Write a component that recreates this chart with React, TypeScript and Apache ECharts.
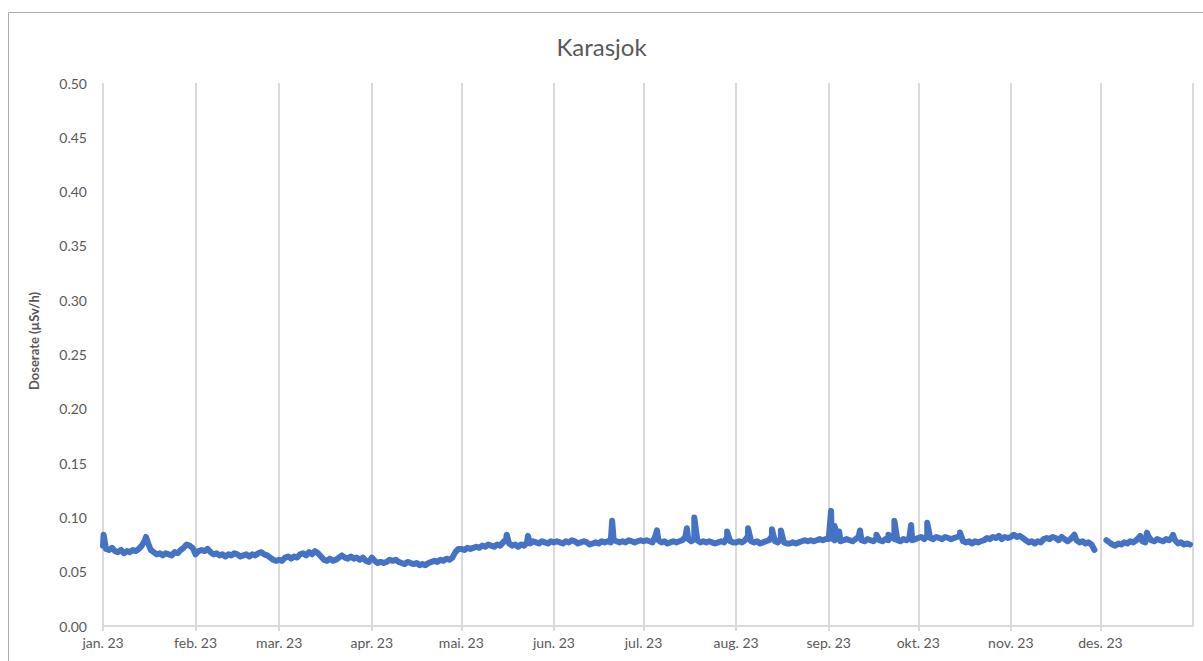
import React, { useEffect, useRef } from "react";
import * as echarts from "echarts";

const monthLabels = ["jan. 23", "feb. 23", "mar. 23", "apr. 23", "mai. 23", "jun. 23", "jul. 23", "aug. 23", "sep. 23", "okt. 23", "nov. 23", "des. 23"];
const yTickValues = [0, 0.05, 0.1, 0.15, 0.2, 0.25, 0.3, 0.35, 0.4, 0.45, 0.5];

// daily dose rate (µSv/h), 2023, one value per day
const jan = [0.074, 0.071, 0.070, 0.072, 0.069, 0.068, 0.070, 0.067, 0.069, 0.068, 0.070, 0.069, 0.071, 0.074, 0.079, 0.077, 0.070, 0.068, 0.066, 0.067, 0.065, 0.067, 0.066, 0.065, 0.068, 0.067, 0.070, 0.072, 0.075, 0.074, 0.072];
const feb = [0.066, 0.069, 0.070, 0.069, 0.071, 0.068, 0.066, 0.067, 0.065, 0.066, 0.064, 0.066, 0.065, 0.067, 0.066, 0.064, 0.065, 0.066, 0.064, 0.066, 0.065, 0.067, 0.068, 0.066, 0.065, 0.063, 0.061, 0.060];
const mar = [0.061, 0.060, 0.063, 0.064, 0.062, 0.064, 0.063, 0.066, 0.067, 0.065, 0.068, 0.066, 0.069, 0.067, 0.064, 0.061, 0.060, 0.062, 0.060, 0.061, 0.063, 0.065, 0.063, 0.062, 0.064, 0.062, 0.063, 0.061, 0.063, 0.060, 0.059];
const apr = [0.063, 0.060, 0.058, 0.059, 0.058, 0.059, 0.061, 0.060, 0.061, 0.059, 0.058, 0.057, 0.059, 0.058, 0.057, 0.058, 0.056, 0.057, 0.056, 0.058, 0.059, 0.060, 0.059, 0.061, 0.060, 0.062, 0.061, 0.063, 0.068, 0.071];
const mai = [0.071, 0.070, 0.072, 0.071, 0.072, 0.073, 0.072, 0.074, 0.073, 0.075, 0.074, 0.073, 0.075, 0.074, 0.077, 0.080, 0.076, 0.074, 0.075, 0.073, 0.075, 0.074, 0.077, 0.076, 0.078, 0.077, 0.076, 0.078, 0.077, 0.076, 0.078];
const jun = [0.077, 0.078, 0.077, 0.076, 0.078, 0.077, 0.079, 0.078, 0.076, 0.077, 0.078, 0.077, 0.075, 0.076, 0.077, 0.076, 0.078, 0.077, 0.078, 0.077, 0.079, 0.078, 0.077, 0.078, 0.077, 0.079, 0.078, 0.077, 0.078, 0.079];
const jul = [0.078, 0.079, 0.078, 0.077, 0.083, 0.079, 0.077, 0.078, 0.076, 0.077, 0.078, 0.077, 0.078, 0.079, 0.082, 0.080, 0.078, 0.080, 0.079, 0.077, 0.078, 0.077, 0.078, 0.077, 0.076, 0.077, 0.078, 0.077, 0.082, 0.078, 0.077];
const aug = [0.077, 0.078, 0.077, 0.079, 0.083, 0.078, 0.077, 0.078, 0.076, 0.077, 0.078, 0.079, 0.083, 0.078, 0.077, 0.081, 0.077, 0.076, 0.076, 0.077, 0.076, 0.077, 0.078, 0.079, 0.078, 0.079, 0.078, 0.079, 0.080, 0.079, 0.080];
const sep = [0.080, 0.081, 0.079, 0.080, 0.078, 0.079, 0.080, 0.079, 0.078, 0.080, 0.082, 0.079, 0.078, 0.080, 0.079, 0.078, 0.081, 0.079, 0.078, 0.080, 0.079, 0.082, 0.080, 0.079, 0.078, 0.080, 0.079, 0.081, 0.079, 0.080];
const okt = [0.081, 0.082, 0.080, 0.083, 0.081, 0.080, 0.082, 0.081, 0.080, 0.082, 0.081, 0.080, 0.081, 0.082, 0.083, 0.078, 0.077, 0.078, 0.076, 0.078, 0.077, 0.078, 0.079, 0.081, 0.080, 0.082, 0.081, 0.083, 0.080, 0.082, 0.081];
const nov = [0.082, 0.084, 0.082, 0.083, 0.081, 0.079, 0.077, 0.078, 0.076, 0.078, 0.077, 0.080, 0.081, 0.080, 0.082, 0.081, 0.079, 0.082, 0.080, 0.078, 0.080, 0.083, 0.079, 0.077, 0.078, 0.076, 0.077, 0.075, 0.070, null];
const des = [null, null, 0.079, 0.077, 0.075, 0.074, 0.076, 0.075, 0.077, 0.076, 0.078, 0.077, 0.079, 0.082, 0.078, 0.077, 0.083, 0.079, 0.078, 0.080, 0.079, 0.078, 0.080, 0.079, 0.082, 0.079, 0.076, 0.077, 0.075, 0.076, 0.075];

// short-lived peaks: day of year (0 = 1 Jan) and dose rate
const spikeDays = [0.2, 14.4, 135.2, 142.3, 170.5, 185.5, 195.5, 198.0, 209.0, 216.0, 224.0, 227.0, 243.8, 245.0, 246.5, 253.5, 259.0, 263.0, 265.0, 270.6, 276.0, 287.0, 325.3, 347.3, 349.6, 358.3];
const spikeValues = [0.084, 0.082, 0.084, 0.083, 0.097, 0.088, 0.090, 0.100, 0.087, 0.090, 0.089, 0.088, 0.106, 0.092, 0.087, 0.088, 0.084, 0.084, 0.097, 0.093, 0.095, 0.086, 0.084, 0.083, 0.086, 0.084];

const DAY = 86400000;
const START = new Date(2023, 0, 1).getTime();
const END = new Date(2024, 0, 1).getTime();

export default function App() {
  const ref = useRef<HTMLDivElement>(null);
  useEffect(() => {
    if (!ref.current) return;
    const chart = echarts.init(ref.current, null, { renderer: "svg" });
    const daily = [...jan, ...feb, ...mar, ...apr, ...mai, ...jun, ...jul, ...aug, ...sep, ...okt, ...nov, ...des];
    const pts: [number, number | null][] = daily.map((v, i) => [i, v]);
    spikeDays.forEach((d, i) => pts.push([d, spikeValues[i]]));
    pts.sort((a, b) => a[0] - b[0]);
    const data = pts.map(([d, v]) => [START + d * DAY, v]);

    const font = "Lato, 'Open Sans', sans-serif";
    chart.setOption({
      animation: false,
      backgroundColor: "#ffffff",
      title: {
        text: "Karasjok",
        left: "center",
        top: 29,
        textStyle: { fontFamily: font, fontSize: 24, fontWeight: "normal", color: "#595959" },
      },
      grid: { left: 103, right: 10, top: 83, bottom: 35, containLabel: false },
      graphic: [
        {
          type: "rect",
          shape: { x: 8.5, y: 12.5, width: 1220, height: 700 },
          style: { fill: "none", stroke: "#ababab", lineWidth: 1 },
          silent: true,
        },
        {
          type: "text",
          x: 34,
          y: 341,
          rotation: Math.PI / 2,
          style: {
            text: "Doserate (µSv/h)",
            fontFamily: font,
            fontSize: 13,
            fontWeight: "bold",
            fill: "#595959",
            align: "center",
            verticalAlign: "middle",
          },
        },
      ],
      xAxis: {
        type: "time",
        min: START,
        max: END,
        splitNumber: 12,
        minInterval: 28 * DAY,
        maxInterval: 31 * DAY,
        axisLine: { show: true, lineStyle: { color: "#d9d9d9", width: 2 } },
        axisTick: { show: true, length: 5, lineStyle: { color: "#d9d9d9", width: 2 } },
        splitLine: { show: true, lineStyle: { color: "#d9d9d9", width: 2 } },
        axisLabel: {
          fontFamily: font,
          fontSize: 14,
          color: "#595959",
          margin: 9,
          hideOverlap: false,
          showMaxLabel: false,
          formatter: (val: number) => {
            const d = new Date(val);
            if (d.getFullYear() !== 2023) return "";
            return monthLabels[d.getMonth()];
          },
        },
      },
      yAxis: {
        type: "value",
        min: yTickValues[0],
        max: yTickValues[yTickValues.length - 1],
        interval: 0.05,
        axisLine: { show: false },
        axisTick: { show: false },
        splitLine: { show: false },
        axisLabel: {
          fontFamily: font,
          fontSize: 14,
          color: "#595959",
          margin: 16,
          formatter: (v: number) => v.toFixed(2),
        },
      },
      series: [
        {
          type: "line",
          data,
          showSymbol: false,
          symbol: "none",
          connectNulls: false,
          lineStyle: { color: "#4472C4", width: 6, join: "round", cap: "round" },
        },
      ],
    });
    return () => chart.dispose();
  }, []);
  return <div ref={ref} style={{ position: "fixed", left: 0, top: 0, width: 1203, height: 661 }} />;
}
